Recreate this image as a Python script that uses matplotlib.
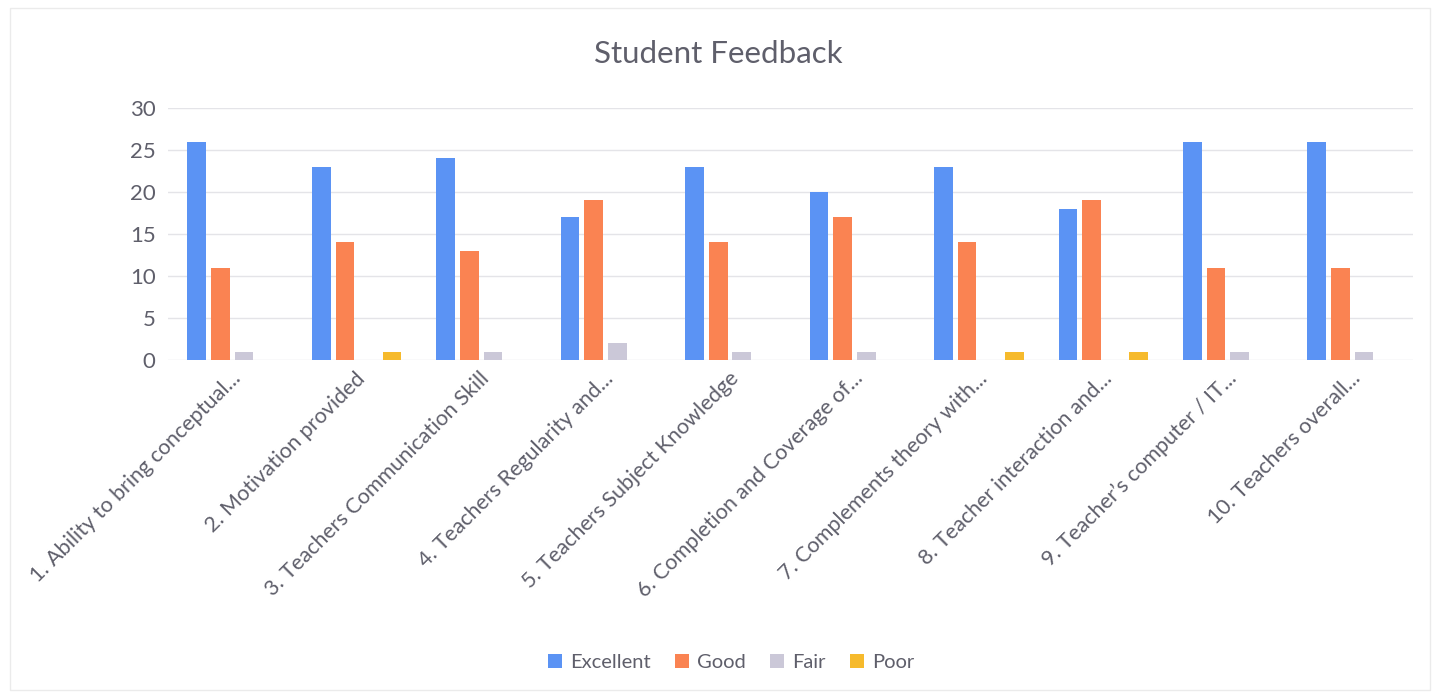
import matplotlib
matplotlib.use("Agg")
import matplotlib.pyplot as plt
from matplotlib.patches import Rectangle
import numpy as np

plt.rcParams['font.family'] = ['Lato', 'DejaVu Sans']

TEXT_GRAY = "#5F5F6B"

# Data
categories = [
    "1. Ability to bring conceptual...",
    "2. Motivation provided",
    "3. Teachers Communication Skill",
    "4. Teachers Regularity and...",
    "5. Teachers Subject Knowledge",
    "6. Completion and Coverage of...",
    "7. Complements theory with...",
    "8. Teacher interaction and...",
    "9. Teacher\u2019s computer / IT...",
    "10. Teachers overall...",
]
series_names = ["Excellent", "Good", "Fair", "Poor"]
excellent = [26, 23, 24, 17, 23, 20, 23, 18, 26, 26]
good = [11, 14, 13, 19, 14, 17, 14, 19, 11, 11]
fair = [1, 0, 1, 2, 1, 1, 0, 0, 1, 1]
poor = [0, 1, 0, 0, 0, 0, 1, 1, 0, 0]
colors = ["#5B93F4", "#FA8352", "#CBC8D8", "#F6BA2C"]

fig = plt.figure(figsize=(14.37, 6.97), dpi=100)
ax = fig.add_axes([0.117, 0.4835, 0.866, 0.3615])

x = np.arange(len(categories))
step = 0.19
width = 0.15
for i, (name, vals, col) in enumerate(zip(series_names, [excellent, good, fair, poor], colors)):
    ax.bar(x + (i - 1.5) * step + 0.015, vals, width, color=col, label=name, zorder=3)

ax.set_xlim(-0.5, len(categories) - 0.5)
ax.set_ylim(0, 30)
ax.set_yticks(range(0, 31, 5))
ax.grid(axis='y', color='#E4E4E8', linewidth=1, zorder=0)
for s in ax.spines.values():
    s.set_visible(False)
ax.tick_params(axis='both', length=0, colors=TEXT_GRAY, labelsize=16)
ax.tick_params(axis='y', pad=9)
ax.tick_params(axis='x', pad=6)
ax.set_xticks(x)
ax.set_xticklabels(categories, rotation=45, ha='right', rotation_mode='anchor', fontsize=15.5, color=TEXT_GRAY)

fig.text(0.5, 0.922, "Student Feedback", ha='center', va='center', fontsize=22.5, color=TEXT_GRAY)

fig.legend(loc='center', bbox_to_anchor=(0.509, 0.05), ncol=4, frameon=False, fontsize=14.5,
           handlelength=0.7, handleheight=0.7, handletextpad=0.4, columnspacing=1.2,
           labelcolor=TEXT_GRAY)

fig.patches.append(Rectangle((0.007, 0.01), 0.988, 0.978, transform=fig.transFigure,
                             fill=False, edgecolor='#EBEBEB', linewidth=1))

fig.savefig("out.png", dpi=100, facecolor='white')
